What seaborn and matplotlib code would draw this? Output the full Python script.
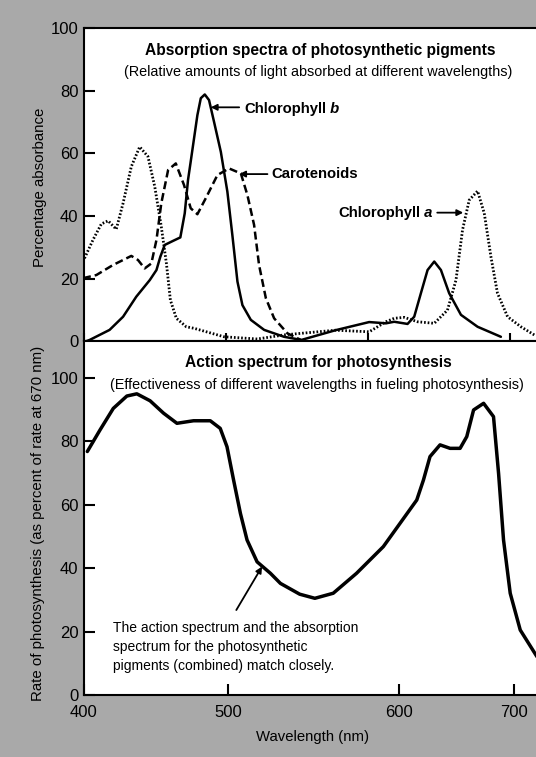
import numpy as np
import matplotlib
matplotlib.use("Agg")
import matplotlib.pyplot as plt
from matplotlib.offsetbox import TextArea, HPacker, AnnotationBbox
import seaborn as sns

# Absorption spectra (top panel): wavelength (nm) and percentage absorbance
chl_b_nm = [401, 404, 418, 427.5, 436.8, 446.3, 451, 453.7, 456.8, 462.7, 467.8, 470.9, 473.2,
            475.1, 479.8, 482.2, 485, 488, 491.5, 496.3, 500.9, 504.4, 508, 511.5, 517.4, 526.8,
            540.8, 553, 577, 600.7, 612.5, 618.3, 627.7, 632.4, 637.1, 641.8, 646.5, 651.2,
            657, 665.3, 677, 693.4]
chl_b_abs = [0, 0.5, 3.7, 7.9, 14.3, 19.6, 22.8, 27, 30.8, 32.1, 33.2, 40.9, 51.5,
             57.4, 72.2, 77.6, 78.8, 77, 70.1, 60.5, 47.8, 34, 19.1, 11.6, 6.9, 3.7,
             1.5, 0.5, 3.6, 6.2, 5.8, 6.3, 5.6, 7.9, 15.4, 22.8, 25.5, 22.8,
             15.4, 8.5, 4.7, 1.5]

chl_a_nm = [399.3, 406.3, 412.2, 417, 422.7, 427.5, 433.3, 439.2, 445, 449.8, 454.4, 458, 460.8,
            465, 472, 477.5, 498.6, 522, 540.8, 552.6, 577, 600.7, 612.5, 618.3, 625.4, 634.7,
            646.5, 655.8, 661.8, 666.4, 671.1, 677, 681.7, 686.4, 691, 698.1, 707.5, 716.9]
chl_a_abs = [25.5, 32.4, 37.5, 38.5, 35.8, 44.1, 55.8, 62.1, 59, 49.4, 36.6, 24.9, 13.2,
             7.4, 4.7, 4.2, 1.5, 0.8, 2.1, 2.6, 3.6, 3.1, 6.3, 7.4, 7.7, 6.3,
             5.8, 10, 19.6, 35.6, 45.1, 48, 40.9, 27, 15.4, 7.9, 4.7, 2.1]

carot_nm = [399.3, 408.7, 420.4, 433.3, 438, 442.7, 447.4, 451, 454.4, 459.2, 464.6, 470.4,
            475.1, 479.8, 485.7, 493.9, 502.1, 510.4, 515, 519.7, 523.2, 528, 533.8, 543.2,
            552.6]
carot_abs = [20.2, 21.2, 24.4, 27.3, 26, 23.3, 24.9, 32.4, 44.1, 54.7, 56.8, 49.9,
             42.5, 40.6, 45.7, 53.1, 55.2, 53.6, 46.7, 37.2, 24.4, 13.8, 7.4, 2.6,
             0.5]

# Action spectrum (bottom panel): rate as percent of rate at 670 nm
action_nm = [402.3, 411.1, 420.3, 429.7, 436.6, 445.8, 455.1, 464.4, 475.9, 487.5, 494.4, 499.1,
             503.1, 507.1, 511, 516.9, 524.7, 530.6, 541.9, 550.8, 561.6, 575.3, 591, 601.1,
             615.7, 621.5, 627.2, 635.9, 644.6, 653.3, 659.1, 665, 673.7, 682.3, 686.7, 691,
             696.8, 705.5, 720]
action_rate = [76.8, 83.6, 90.4, 94.3, 95, 92.8, 88.9, 85.7, 86.5, 86.5, 84.1, 78.3,
               67.8, 57.3, 48.9, 42, 38.4, 35.2, 31.8, 30.5, 32.1, 38.4, 46.8, 54.1,
               61.5, 67.8, 75.2, 78.9, 77.8, 77.8, 81.5, 89.9, 92, 87.8, 69.9, 48.9,
               32.1, 20.5, 12.1]

wl_ticks = [400, 500, 600, 700]
pct_ticks = [0, 20, 40, 60, 80, 100]

sns.set_theme(style="ticks")
plt.rcParams["font.family"] = ["Liberation Sans", "DejaVu Sans"]
plt.rcParams["text.color"] = "black"

W, H = 536, 757
fig = plt.figure(figsize=(W / 100, H / 100), dpi=100, facecolor="#a9a9a9")


def fx(px):
    return px / W


def fy(py):
    return 1 - py / H


ax1 = fig.add_axes([fx(84), fy(341.5), fx(476), (341.5 - 28) / H])
ax2 = fig.add_axes([fx(84), fy(695), fx(476), (695 - 341.5) / H])

line_kw = dict(color="black", lw=1.8, sort=False, solid_joinstyle="round",
               solid_capstyle="round")

# top panel
sns.lineplot(x=chl_b_nm, y=chl_b_abs, ax=ax1, **line_kw)
sns.lineplot(x=chl_a_nm, y=chl_a_abs, ax=ax1, linestyle=(0, (0.6, 0.7)),
             **dict(line_kw, lw=2.0))
sns.lineplot(x=carot_nm, y=carot_abs, ax=ax1, linestyle=(0, (3.2, 1.6)), **line_kw)
ax1.set_xlim(400, 735)
ax1.set_ylim(0, 100)
ax1.set_xticks(wl_ticks)
ax1.set_xticklabels([])
ax1.set_yticks(pct_ticks)

# bottom panel: the printed axis is not evenly spaced, follow its tick positions
nm_breaks = [300, 400, 500, 600, 700, 800]
pos_breaks = [-144, 0, 144, 314, 429, 544]
ax2.set_xscale("function", functions=(lambda v: np.interp(v, nm_breaks, pos_breaks),
                                      lambda p: np.interp(p, pos_breaks, nm_breaks)))
sns.lineplot(x=action_nm, y=action_rate, ax=ax2, color="black", lw=2.5, sort=False,
             solid_joinstyle="round", solid_capstyle="round")
ax2.set_xlim(400, 740)
ax2.set_ylim(0, 111.5)
ax2.set_xticks(wl_ticks)
ax2.set_xticklabels([str(t) for t in wl_ticks])
ax2.set_yticks(pct_ticks)

for ax in (ax1, ax2):
    ax.set_facecolor("white")
    ax.set_xlabel("")
    ax.set_ylabel("")
    ax.tick_params(direction="in", length=8, width=1.5, colors="black",
                   labelsize=12, pad=4)
    ax.xaxis.set_minor_locator(matplotlib.ticker.NullLocator())
    for s in ax.spines.values():
        s.set_color("black")
        s.set_linewidth(1.5)
ax1.tick_params(axis="x", length=6)
ax2.tick_params(axis="x", pad=7)

# titles and axis labels
fig.text(fx(320), fy(50), "Absorption spectra of photosynthetic pigments",
         ha="center", va="center", fontsize=11.2, fontweight="bold")
fig.text(fx(318), fy(72), "(Relative amounts of light absorbed at different wavelengths)",
         ha="center", va="center", fontsize=10.4)
fig.text(fx(318), fy(363), "Action spectrum for photosynthesis",
         ha="center", va="center", fontsize=11.2, fontweight="bold")
fig.text(fx(317), fy(385), "(Effectiveness of different wavelengths in fueling photosynthesis)",
         ha="center", va="center", fontsize=10.4)
fig.text(fx(40), fy(187), "Percentage absorbance", rotation=90,
         ha="center", va="center", fontsize=10.8)
fig.text(fx(38), fy(523), "Rate of photosynthesis (as percent of rate at 670 nm)",
         rotation=90, ha="center", va="center", fontsize=10.8)
fig.text(fx(312), fy(737), "Wavelength (nm)", ha="center", va="center", fontsize=10.7)

# curve labels
arrow = dict(arrowstyle="-|>", color="black", lw=1.3, mutation_scale=9,
             shrinkA=0, shrinkB=0)
bold = dict(fontsize=10.7, fontweight="bold", color="black")


def pigment_label(ax, xy, name, letter=None, align=0):
    parts = [TextArea(name, textprops=bold)]
    if letter:
        parts.append(TextArea(" " + letter, textprops=dict(bold, fontstyle="italic")))
    box = HPacker(children=parts, align="baseline", pad=0, sep=0)
    ax.add_artist(AnnotationBbox(box, xy, box_alignment=(align, 0.5), frameon=False,
                                 pad=0))


ax1.annotate("", xy=(489.2, 74.7), xytext=(509.2, 74.7), arrowprops=arrow)
pigment_label(ax1, (512.7, 74.2), "Chlorophyll", "b")
ax1.annotate("", xy=(509.2, 53.4), xytext=(529.1, 53.4), arrowprops=arrow)
pigment_label(ax1, (531.7, 53.4), "Carotenoids")
ax1.annotate("", xy=(666.9, 41.1), xytext=(648.6, 41.1), arrowprops=arrow)
pigment_label(ax1, (645.3, 41.1), "Chlorophyll", "a", align=1)

ax2.annotate("", xy=(519.8, 40.5), xytext=(504.7, 26.8), arrowprops=arrow)
ax2.text(420.1, 23.3, "The action spectrum and the absorption\nspectrum for the photosynthetic\n"
         "pigments (combined) match closely.", ha="left", va="top", fontsize=10,
         linespacing=1.44)

fig.savefig("out.png", dpi=100, facecolor=fig.get_facecolor())
